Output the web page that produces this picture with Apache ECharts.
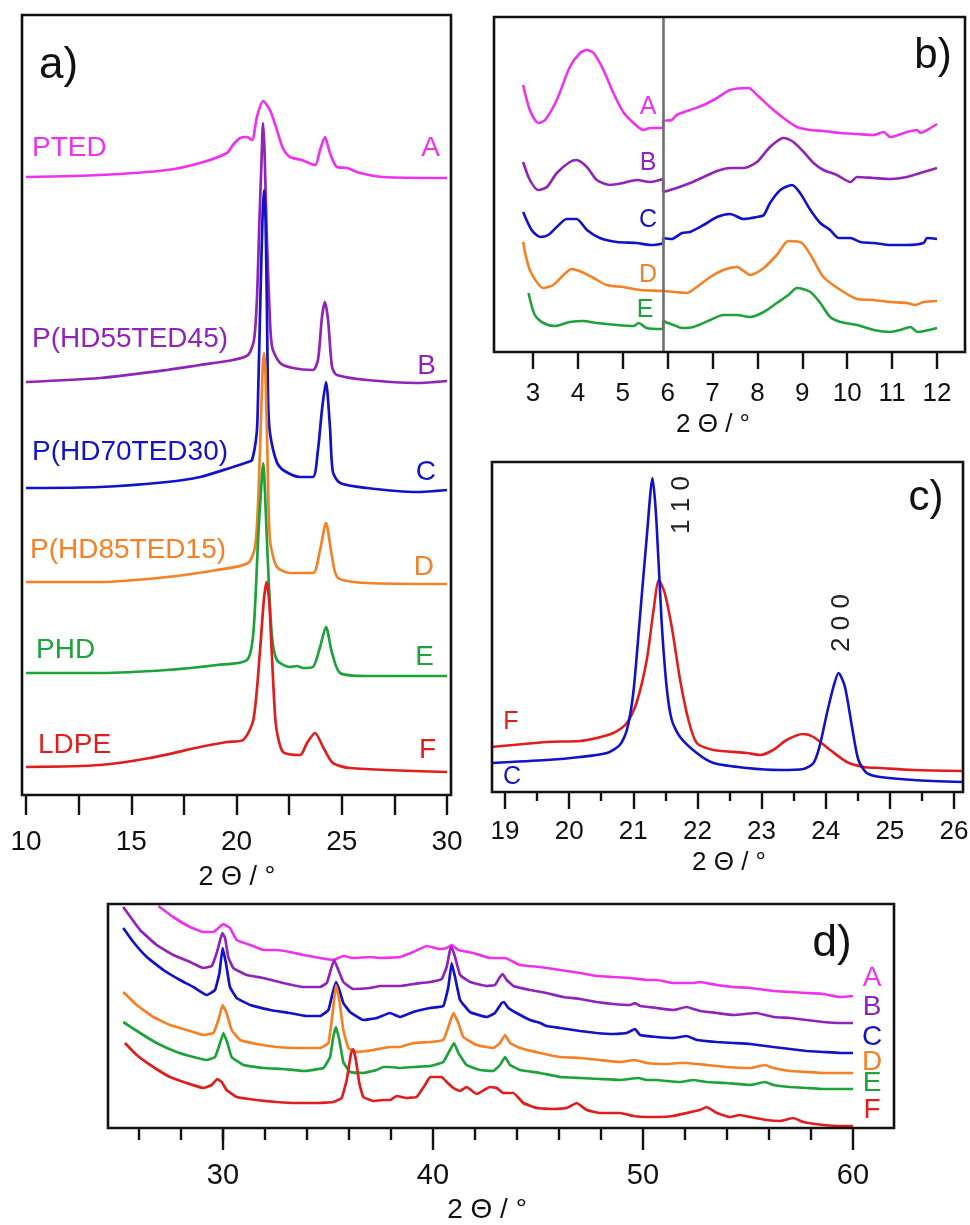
<!DOCTYPE html>
<html><head><meta charset="utf-8">
<script src="https://cdn.jsdelivr.net/npm/echarts@6/dist/echarts.min.js"></script>
<style>html,body{margin:0;padding:0;background:#fff}#c{width:970px;height:1225px}</style>
</head><body><div id="c"></div>
<script>
// ---------- colours ----------
const COL = {A:'#ee33ee', B:'#9024b8', C:'#1212c8', D:'#f58025', E:'#1ea23a', F:'#e01e1e'};

// ---------- panel a) 2Θ 10-30 (stacked, arbitrary intensity) ----------
const aTicks = [10, 15, 20, 25, 30];
const aNames = ['PTED','P(HD55TED45)','P(HD70TED30)','P(HD85TED15)','PHD','LDPE'];
const aA = [[10.0,618],[13.52,620],[16.70,625],[18.27,632],[19.55,642],[19.83,650],[20.17,657],[20.5,658],[20.74,655],[20.97,678],[21.26,694],[21.59,685],[21.92,665],[22.2,647],[22.54,638],[23.1,635],[23.73,630],[23.97,645],[24.2,658],[24.44,642],[24.77,628],[25.25,627],[25.87,622],[26.96,618],[30.0,617]];
const aB = [[10.0,413],[13.52,417],[16.70,425],[18.27,430],[19.83,435],[20.55,440],[20.83,455],[20.97,495],[21.09,575],[21.19,635],[21.26,672],[21.33,645],[21.43,565],[21.55,495],[21.69,448],[22.07,432],[22.68,427],[23.63,425],[23.87,435],[24.06,478],[24.2,493],[24.35,475],[24.54,428],[24.77,420],[26.2,415],[28.57,412],[30.0,414]];
const aC = [[10.0,307],[13.52,308],[16.70,313],[18.27,318],[19.69,327],[20.55,333],[20.74,335],[20.96,362],[21.02,395],[21.14,500],[21.24,580],[21.31,605],[21.38,575],[21.45,480],[21.50,395],[21.59,362],[21.91,333],[22.21,325],[23.02,318],[23.63,318],[23.87,345],[24.06,385],[24.25,413],[24.44,368],[24.58,323],[24.92,312],[26.2,307],[28.57,303],[30.0,305]];
const aD = [[10.0,213],[13.52,213],[16.70,218],[19.07,225],[20.55,232],[20.88,248],[21.02,290],[21.14,360],[21.24,425],[21.31,442],[21.38,420],[21.47,340],[21.59,255],[21.92,228],[22.54,222],[23.63,222],[23.97,245],[24.25,272],[24.54,238],[24.82,217],[26.2,212],[30.0,211]];
const aE = [[10.0,122],[13.52,122],[16.70,125],[19.07,130],[20.5,135],[20.8,162],[21.04,262],[21.15,300],[21.27,332],[21.36,300],[21.43,262],[21.67,162],[21.92,135],[22.54,128],[22.87,129],[23.16,127],[23.63,128],[23.97,148],[24.25,168],[24.54,142],[24.92,122],[26.2,119],[30.0,119]];
const aF = [[10.0,28],[13.52,30],[15.89,37],[18.27,48],[19.55,53],[20.31,55],[20.8,75],[21.12,145],[21.3,195],[21.43,213],[21.55,195],[21.67,145],[21.83,80],[21.95,60],[22.21,43],[23.02,40],[23.35,52],[23.73,62],[24.11,48],[24.58,32],[25.39,27],[30.0,23]];

// ---------- panel b) 2Θ 3-12 ----------
const bBreak = 5.9;
const bA = [[2.78,267],[2.93,242],[3.12,229],[3.27,232],[3.53,252],[3.82,285],[4.05,299],[4.20,302],[4.35,299],[4.57,282],[4.79,259],[5.01,240],[5.24,229],[5.46,222],[5.61,224],[5.9,224],[5.9,231],[6.09,232],[6.20,237],[6.50,242],[6.80,247],[7.10,254],[7.39,262],[7.80,264],[7.99,257],[8.28,245],[8.58,234],[8.88,225],[9.18,222],[9.47,221],[9.85,219],[10.22,218],[10.59,217],[10.81,220],[10.96,215],[11.33,220],[11.56,222],[11.63,219],[11.78,222],[12.0,228]];
const bB = [[2.78,190],[2.93,172],[3.12,162],[3.31,165],[3.53,179],[3.82,190],[3.97,192],[4.20,185],[4.42,172],[4.72,167],[5.01,169],[5.31,172],[5.61,170],[5.9,173],[5.9,160],[6.20,164],[6.50,169],[6.80,175],[7.10,181],[7.39,184],[7.69,184],[7.99,190],[8.28,205],[8.58,214],[8.80,210],[9.03,200],[9.25,189],[9.47,182],[9.77,177],[10.07,170],[10.22,175],[10.59,174],[10.96,173],[11.33,175],[11.70,180],[12.0,184]];
const bC = [[2.78,140],[2.97,122],[3.16,115],[3.34,117],[3.53,125],[3.75,133],[3.97,133],[4.20,122],[4.49,114],[4.87,110],[5.31,109],[5.61,107],[5.9,109],[5.9,114],[6.09,113],[6.32,119],[6.50,120],[6.80,127],[7.10,135],[7.39,138],[7.69,133],[7.99,135],[8.14,137],[8.28,149],[8.51,162],[8.77,167],[8.95,159],[9.18,142],[9.40,129],[9.62,122],[9.81,114],[10.07,114],[10.29,110],[10.59,109],[10.96,107],[11.33,107],[11.70,109],[11.78,114],[12.0,113]];
const bD = [[2.78,110],[2.93,82],[3.23,64],[3.45,67],[3.68,77],[3.86,83],[4.09,80],[4.35,74],[4.64,67],[5.01,65],[5.39,62],[5.9,61],[6.43,59],[6.65,65],[6.95,75],[7.24,82],[7.54,85],[7.84,77],[8.14,84],[8.43,97],[8.69,111],[8.99,109],[9.21,95],[9.47,75],[9.85,62],[10.22,53],[10.59,52],[10.96,50],[11.33,49],[11.52,47],[11.70,50],[12.0,51]];
const bE = [[2.90,59],[3.04,37],[3.23,29],[3.49,26],[3.82,30],[4.12,31],[4.42,29],[4.87,27],[5.24,26],[5.35,29],[5.53,24],[5.9,23],[5.9,31],[6.13,27],[6.32,24],[6.57,25],[6.95,32],[7.24,37],[7.54,37],[7.84,35],[8.14,40],[8.43,49],[8.69,57],[8.88,64],[9.18,60],[9.40,49],[9.62,35],[9.85,30],[10.22,27],[10.59,22],[10.96,20],[11.18,22],[11.41,25],[11.56,20],[12.0,24]];

// ---------- panel c) 2Θ 19-26 ----------
const cC = [[18.79,29],[19.65,32],[20.17,35],[20.59,39],[20.79,47],[20.90,62],[21.00,99],[21.10,172],[21.21,255],[21.30,314],[21.36,272],[21.44,172],[21.52,105],[21.60,72],[21.73,55],[21.99,39],[22.25,29],[22.77,24],[23.29,22],[23.65,23],[23.81,29],[23.91,47],[24.02,79],[24.12,105],[24.20,119],[24.30,105],[24.41,65],[24.51,32],[24.64,19],[24.85,15],[25.37,12],[26.14,10]];
const cF = [[18.79,45],[19.65,50],[20.17,51],[20.43,54],[20.69,59],[20.90,69],[21.05,89],[21.21,132],[21.31,179],[21.40,212],[21.49,199],[21.60,165],[21.73,112],[21.86,72],[21.99,49],[22.25,42],[22.77,39],[22.98,37],[23.18,42],[23.39,52],[23.65,58],[23.81,55],[24.07,42],[24.33,30],[24.59,25],[24.85,24],[25.37,22],[26.14,21]];
const cPeaks = ['1 1 0', '2 0 0'];

// ---------- panel d) 2Θ 25-60 ----------
const dA = [[26.92,222],[27.63,211],[28.43,201],[29.06,196],[29.54,196],[29.78,200],[30.02,204],[30.33,200],[30.65,188],[31.29,183],[31.92,178],[32.56,178],[33.19,176],[33.83,173],[34.62,170],[35.25,168],[35.73,172],[36.20,170],[37.0,171],[37.48,170],[38.43,171],[39.06,176],[39.70,182],[40.33,179],[40.65,180],[40.89,183],[41.21,178],[41.92,175],[42.71,170],[43.43,170],[44.14,163],[45.10,161],[46.05,158],[47.0,155],[47.79,152],[48.59,151],[49.38,150],[50.17,148],[50.65,148],[51.44,145],[52.40,145],[52.71,146],[53.51,143],[54.30,141],[55.10,140],[56.21,137],[57.0,136],[57.79,135],[58.59,134],[59.38,131],[60.0,132]];
const dB = [[25.25,221],[26.05,198],[26.84,183],[27.63,173],[28.43,166],[29.06,160],[29.46,162],[29.70,175],[29.89,190],[29.97,195],[30.10,190],[30.25,171],[30.49,160],[31.13,153],[31.92,150],[32.87,145],[33.83,141],[34.62,141],[34.94,145],[35.13,158],[35.29,168],[35.49,158],[35.73,146],[36.20,139],[37.0,140],[37.48,142],[38.43,142],[39.06,144],[39.86,146],[40.41,149],[40.65,161],[40.81,178],[40.89,181],[41.05,171],[41.29,153],[41.76,146],[42.56,142],[42.95,143],[43.19,151],[43.32,154],[43.51,148],[43.83,142],[44.62,138],[45.41,135],[46.21,131],[47.0,129],[47.79,126],[48.59,124],[49.38,123],[49.62,125],[49.86,122],[50.65,120],[51.44,118],[52.08,121],[52.71,117],[53.51,115],[54.30,113],[55.41,115],[56.21,111],[57.0,110],[57.79,108],[58.59,106],[59.38,105],[60.0,105]];
const dC = [[25.25,200],[25.73,186],[26.37,171],[27.16,158],[27.95,148],[28.59,141],[29.22,133],[29.62,138],[29.83,155],[29.98,180],[30.14,165],[30.33,141],[30.65,130],[31.29,123],[32.24,118],[33.19,115],[33.98,112],[34.62,112],[35.02,118],[35.22,135],[35.38,146],[35.54,138],[35.73,125],[36.05,116],[36.68,108],[37.32,110],[37.95,115],[38.43,111],[39.06,116],[39.86,120],[40.49,122],[40.73,141],[40.89,165],[41.05,151],[41.29,128],[41.76,116],[42.56,111],[42.95,115],[43.27,125],[43.38,126],[43.59,120],[43.98,115],[44.62,108],[45.10,105],[45.41,102],[46.05,100],[47.0,97],[47.79,95],[48.59,94],[49.22,95],[49.62,99],[49.86,93],[50.65,91],[51.44,90],[52.08,92],[52.56,88],[53.51,86],[54.30,85],[55.10,84],[56.21,81],[57.0,79],[57.79,77],[58.59,76],[59.38,75],[60.0,75]];
const dD = [[25.25,136],[25.89,123],[26.68,111],[27.48,103],[28.27,98],[29.06,93],[29.54,95],[29.78,108],[29.98,123],[30.17,115],[30.41,98],[30.81,88],[31.60,84],[32.56,81],[33.51,80],[34.62,80],[35.02,85],[35.22,115],[35.38,143],[35.54,128],[35.73,98],[35.97,80],[36.37,76],[37.16,78],[37.95,81],[38.43,81],[39.06,85],[39.86,86],[40.49,88],[40.73,101],[40.97,115],[41.21,105],[41.44,91],[42.08,83],[42.87,80],[43.19,85],[43.43,93],[43.67,85],[44.14,80],[45.10,75],[46.05,71],[47.0,70],[47.95,68],[48.90,66],[49.62,68],[50.17,65],[51.13,64],[51.76,65],[52.08,65],[53.03,63],[53.98,61],[55.10,60],[55.81,63],[56.21,60],[57.0,57],[57.79,56],[58.59,55],[59.38,55],[60.0,55]];
const dE = [[25.25,106],[26.05,95],[26.84,85],[27.79,76],[28.59,71],[29.22,68],[29.62,71],[29.86,85],[30.02,95],[30.21,85],[30.41,71],[30.97,63],[31.92,60],[32.87,59],[33.83,57],[34.78,60],[35.10,71],[35.25,91],[35.38,101],[35.54,88],[35.73,66],[36.05,56],[36.68,55],[37.32,58],[37.63,61],[37.95,61],[38.43,60],[39.06,61],[39.86,62],[40.49,66],[40.81,78],[41.0,85],[41.21,75],[41.60,63],[42.24,58],[42.87,57],[43.19,63],[43.43,71],[43.67,63],[44.14,58],[45.10,55],[46.05,51],[47.0,50],[47.95,49],[48.90,48],[49.78,50],[50.17,48],[50.65,48],[51.13,47],[51.76,46],[52.40,48],[53.03,46],[53.98,45],[55.10,43],[55.81,46],[56.21,43],[57.0,41],[57.79,40],[58.59,39],[59.38,39],[60.0,39]];
const dF = [[25.33,85],[25.89,73],[26.68,61],[27.48,51],[28.27,45],[29.06,40],[29.46,43],[29.73,49],[29.94,46],[30.17,38],[30.65,31],[31.60,28],[32.56,26],[33.51,25],[34.46,25],[35.25,26],[35.65,30],[35.89,48],[36.10,75],[36.20,79],[36.33,68],[36.49,45],[36.68,31],[37.16,27],[37.63,28],[37.95,28],[38.27,32],[38.75,30],[39.22,31],[39.62,43],[39.86,51],[40.41,51],[40.65,46],[40.97,40],[41.29,37],[41.60,41],[42.08,34],[42.71,41],[43.03,40],[43.35,35],[43.83,35],[44.30,25],[44.94,20],[45.73,19],[46.37,20],[46.84,25],[47.32,18],[47.95,15],[48.90,15],[49.54,12],[50.17,11],[50.81,11],[51.44,12],[52.08,15],[52.71,18],[53.03,21],[53.51,15],[54.14,11],[54.62,13],[55.10,11],[55.89,8],[56.52,7],[57.16,10],[57.63,6],[58.59,3],[59.38,2],[60.0,2]];

const letters = ['A','B','C','D','E','F'];
const xTitle = '2 \u0398 / \u00B0';
const FONT = '"Liberation Sans", Arial, Helvetica, sans-serif';

// ---------- layout (pixels) ----------
const L = {
  a: {box:[22,15,429,780], t:[10,30], p:[26,447]},
  b: {box:[494,17,471,335], t:[3,12], p:[533,937]},
  c: {box:[492,462,471,330], t:[19,26], p:[505,954]},
  d: {box:[108,904,786,224], t:[30,60], p:[223,853]}
};
function boxRange(P){ // value range covered by the frame, same scale as the tick axis
  const k = (P.t[1]-P.t[0])/(P.p[1]-P.p[0]);
  return [P.t[0] - (P.p[0]-P.box[0])*k, P.t[1] + (P.box[0]+P.box[2]-P.p[1])*k];
}

const chart = echarts.init(document.getElementById('c'), null, {renderer:'canvas'});

function g(left, top, width, height){
  return {left, top, width, height, containLabel:false, outerBoundsMode:'none', show:false};
}
const tickStyle = {color:'#111', width:2.4};
function lbl(size, margin, extra){
  return Object.assign({show:true, color:'#111', fontFamily:FONT, fontSize:size, margin:margin, showMinLabel:true, showMaxLabel:true}, extra||{});
}
function xax(grid, o){
  return Object.assign({type:'value', gridIndex:grid, splitLine:{show:false}, axisLine:{show:false},
    axisTick:{show:true, inside:false, length:20, lineStyle:tickStyle}, axisLabel:{show:false}}, o);
}
function xhidden(grid, range){
  return {type:'value', gridIndex:grid, min:range[0], max:range[1], show:false, splitLine:{show:false}};
}
function yax(grid, max){
  return {type:'value', gridIndex:grid, min:0, max:max, show:false, splitLine:{show:false}};
}
function line(ai, data, color, w, smooth, extra){
  return Object.assign({type:'line', xAxisIndex:ai, yAxisIndex:ai, data:data, showSymbol:false, symbol:'none',
    clip:false, smooth:smooth, animation:false, silent:true, lineStyle:{color:color, width:w}}, extra||{});
}

const bR = boxRange(L.b), cR = boxRange(L.c), dR = boxRange(L.d);

// grid indices: 0 a | 1 b data | 2 b ticks | 3 c data | 4 c ticks | 5 d data | 6 d major ticks | 7 d left minor ticks
const grids = [
  g(26,15,421,780),
  g(L.b.box[0], L.b.box[1], L.b.box[2], L.b.box[3]), g(533,17,404,335),
  g(L.c.box[0], L.c.box[1], L.c.box[2], L.c.box[3]), g(505,462,449,330),
  g(L.d.box[0], L.d.box[1], L.d.box[2], L.d.box[3]), g(223,904,630,224), g(139,904,84,224)
];
const xAxes = [
  xax(0, {min:aTicks[0], max:aTicks[aTicks.length-1], interval:2.5,
    axisLabel:lbl(28, 33, {formatter:v => (aTicks.indexOf(v) >= 0 ? String(v) : '')})}),
  xhidden(1, bR),
  xax(2, {min:3, max:12, interval:1, offset:3, axisTick:{show:true, length:17, lineStyle:tickStyle}, axisLabel:lbl(26, 26)}),
  xhidden(3, cR),
  xax(4, {min:19, max:26, interval:1, axisTick:{show:true, length:17, lineStyle:tickStyle},
    minorTick:{show:true, splitNumber:2, length:9, lineStyle:tickStyle}, axisLabel:lbl(26, 27)}),
  xhidden(5, dR),
  xax(6, {min:30, max:60, interval:10, axisTick:{show:true, length:22, lineStyle:tickStyle},
    minorTick:{show:true, splitNumber:5, length:12, lineStyle:tickStyle}, axisLabel:lbl(29, 33)}),
  xax(7, {min:26, max:30, interval:2, axisTick:{show:true, length:12, lineStyle:tickStyle}, axisLabel:{show:false}})
];
const yAxes = [yax(0,780), yax(1,335), yax(2,1), yax(3,330), yax(4,1), yax(5,224), yax(6,1), yax(7,1)];

const series = [
  line(0, aA, COL.A, 2.7, 0.25), line(0, aB, COL.B, 2.7, 0.25), line(0, aC, COL.C, 2.7, 0.25),
  line(0, aD, COL.D, 2.7, 0.25), line(0, aE, COL.E, 2.7, 0.25), line(0, aF, COL.F, 2.7, 0.25),
  line(1, bA, COL.A, 2.6, 0.25, {markLine:{symbol:'none', silent:true, animation:false, label:{show:false},
      lineStyle:{color:'#707070', width:2.6, type:'solid'}, data:[{xAxis:bBreak}]}}),
  line(1, bB, COL.B, 2.6, 0.25), line(1, bC, COL.C, 2.6, 0.25), line(1, bD, COL.D, 2.6, 0.25), line(1, bE, COL.E, 2.6, 0.25),
  line(3, cF, COL.F, 2.6, 0.25), line(3, cC, COL.C, 2.6, 0.25),
  line(5, dA, COL.A, 2.7, 0.1), line(5, dB, COL.B, 2.7, 0.1), line(5, dC, COL.C, 2.7, 0.1),
  line(5, dD, COL.D, 2.7, 0.1), line(5, dE, COL.E, 2.7, 0.1), line(5, dF, COL.F, 2.7, 0.1)
];

function txt(x, y, text, size, color, align, extra){
  return Object.assign({type:'text', x:x, y:y, z:100, silent:true,
    style:{text:text, fill:color, font: size+'px '+FONT, textAlign:align||'center', textVerticalAlign:'middle',
      align:align||'center', verticalAlign:'middle'}}, extra||{});
}
function box(b){
  return {type:'rect', z:90, silent:true, shape:{x:b[0], y:b[1], width:b[2], height:b[3]},
    style:{fill:null, stroke:'#111', lineWidth:2.6}};
}

const graphic = [
  box(L.a.box), box(L.b.box), box(L.c.box), box(L.d.box),
  // panel a labels
  txt(39, 66, 'a)', 44, '#111', 'left'),
  txt(32, 148, aNames[0], 28, COL.A, 'left'), txt(440, 148, letters[0], 28, COL.A, 'right'),
  txt(32, 339, aNames[1], 28, COL.B, 'left'), txt(436, 366, letters[1], 28, COL.B, 'right'),
  txt(32, 452, aNames[2], 28, COL.C, 'left'), txt(436, 472, letters[2], 28, COL.C, 'right'),
  txt(30, 550, aNames[3], 28, COL.D, 'left'), txt(434, 567, letters[3], 28, COL.D, 'right'),
  txt(36, 650, aNames[4], 28, COL.E, 'left'), txt(434, 657, letters[4], 28, COL.E, 'right'),
  txt(38, 745, aNames[5], 28, COL.F, 'left'), txt(436, 750, letters[5], 28, COL.F, 'right'),
  txt(237, 878, xTitle, 27, '#111'),
  // panel b labels
  txt(933, 56, 'b)', 42, '#111'),
  txt(648, 107, letters[0], 25, COL.A), txt(648, 163, letters[1], 25, COL.B), txt(648, 220, letters[2], 25, COL.C),
  txt(648, 275, letters[3], 25, COL.D), txt(645, 310, letters[4], 25, COL.E),
  txt(713, 425, xTitle, 26, '#111'),
  // panel c labels
  txt(926, 498, 'c)', 42, '#111'),
  txt(511, 722, letters[5], 25, COL.F), txt(512, 777, letters[2], 25, COL.C),
  txt(682, 505, cPeaks[0], 26, '#222', 'center', {rotation: Math.PI/2}),
  txt(842, 623, cPeaks[1], 26, '#222', 'center', {rotation: Math.PI/2}),
  txt(729, 863, xTitle, 26, '#111'),
  // panel d labels
  txt(832, 944, 'd)', 44, '#111'),
  txt(872, 978, letters[0], 28, COL.A), txt(872, 1007, letters[1], 28, COL.B), txt(872, 1037, letters[2], 28, COL.C),
  txt(872, 1062, letters[3], 28, COL.D), txt(872, 1083, letters[4], 28, COL.E), txt(872, 1110, letters[5], 28, COL.F),
  txt(487, 1210, xTitle, 28, '#111')
];

chart.setOption({
  animation:false,
  backgroundColor:'#fff',
  grid: grids,
  xAxis: xAxes,
  yAxis: yAxes,
  series: series,
  graphic: graphic
});
</script></body></html>
